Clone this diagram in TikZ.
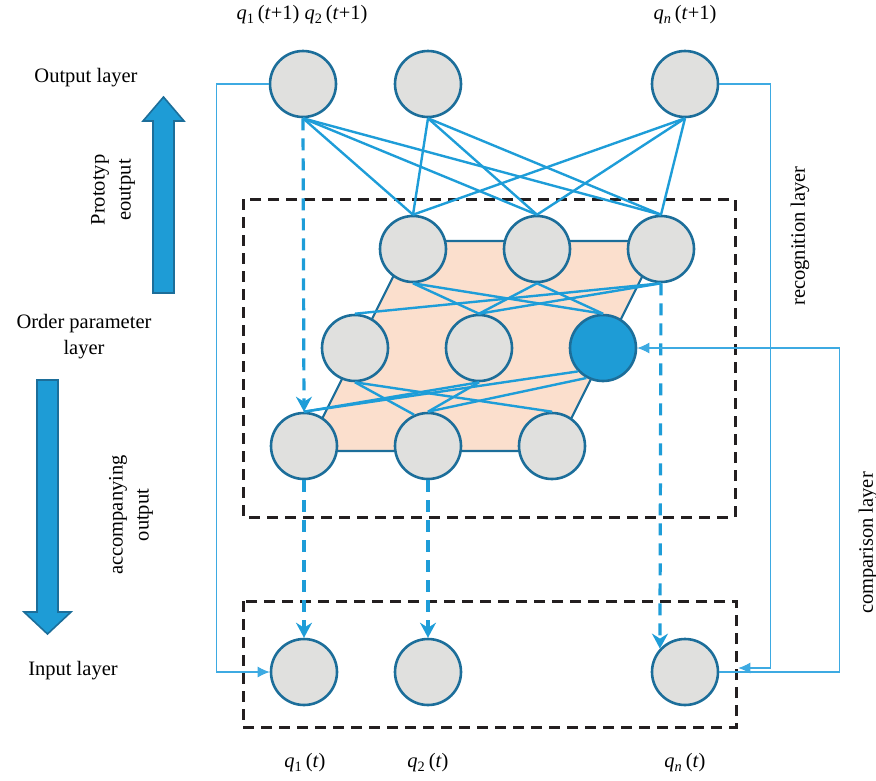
\documentclass[tikz,border=0pt]{standalone}
\usepackage{fontspec}
\setmainfont{Liberation Serif}
\usetikzlibrary{arrows.meta,calc}
\definecolor{cfill}{HTML}{E0E0DE}
\definecolor{cdark}{HTML}{1C6E9A}
\definecolor{cblue}{HTML}{1E9CD6}
\definecolor{clink}{HTML}{1E9DD8}
\definecolor{cthin}{HTML}{3DAAE2}
\definecolor{cpeach}{HTML}{FBDFCD}
\definecolor{cblack}{HTML}{231F20}
\newcommand{\qlab}[2]{\textit{q}\textsubscript{#1}\,(#2)}
\begin{document}
\begin{tikzpicture}[x=1pt,y=-1pt,
  font=\fontsize{20.5}{26}\selectfont,
  neuron/.style={circle, draw=cdark, fill=cfill, line width=2.6pt, minimum size=66pt, inner sep=0pt},
  hot/.style={neuron, fill=cblue},
  link/.style={draw=clink, line width=2.4pt},
  flow/.style={draw=clink, line width=3.2pt, dash pattern=on 12pt off 8pt, -{Stealth[length=15pt,width=16pt,inset=5pt]}},
  frame/.style={draw=cblack, line width=3pt, dash pattern=on 11pt off 7pt},
  feed/.style={draw=cthin, line width=1.1pt, -{Latex[length=12pt,width=11pt]}},
  blockarrow/.style={fill=cblue, draw=cdark, line width=1.6pt},
  lbl/.style={align=center, inner sep=0pt}]
\useasboundingbox (0,0) rectangle (876,780);

% block arrows
\draw[blockarrow] (153,293) -- (153,121) -- (143,121) -- (163.5,97) -- (184,121) -- (174,121) -- (174,293) -- cycle;
\draw[blockarrow] (37,380) -- (58,380) -- (58,612) -- (71,612) -- (47.5,634) -- (24,612) -- (37,612) -- cycle;

% dashed frames
\draw[frame] (243,199) rectangle (735,517);
\draw[frame] (243,601) rectangle (736,727);

% parallelogram
\draw[fill=cpeach, draw=cdark, line width=2.2pt] (411,241) -- (660,241) -- (555,451) -- (306,451) -- cycle;

% neurons
\node[neuron] (t1) at (303,84) {};
\node[neuron] (t2) at (428,84) {};
\node[neuron] (tn) at (685,84) {};
\node[neuron] (r11) at (413,249) {};
\node[neuron] (r12) at (537,249) {};
\node[neuron] (r13) at (661,249) {};
\node[neuron] (r21) at (355,348) {};
\node[neuron] (r22) at (479,348) {};
\node[hot] (r23) at (603,348) {};
\node[neuron] (r31) at (304,446) {};
\node[neuron] (r32) at (428,446) {};
\node[neuron] (r33) at (552,446) {};
\node[neuron] (b1) at (304,672) {};
\node[neuron] (b2) at (428,672) {};
\node[neuron] (bn) at (685,672) {};

% links top -> row1
\foreach \s in {t1,t2,tn}
  \foreach \d in {r11,r12,r13}
    \draw[link] (\s.south) -- (\d.north);
% row1 -> row2
\draw[link] (r11.south) -- (r22.north);
\draw[link] (r11.south) -- (r23.north);
\draw[link] (r12.south) -- (r22.north);
\draw[link] (r12.south) -- (r23.north);
\draw[link] (r13.south) -- (r21.north);
\draw[link] (r13.south) -- (r22.north);
% row2 -> row3
\draw[link] (r21.south) -- (r32.114);
\draw[link] (r21.south) -- (r33.north);
\draw[link] (r22.south) -- (r32.north);
\draw[link] (r22.south) -- (r31.north);
\draw[link] (r23.223) -- (r31.north);
\draw[link] (r23.241) -- (r32.north);

% dashed flows
\draw[flow] (t1.south) -- (r31.north);
\draw[flow] (r31.south) -- (b1.north);
\draw[flow] (r32.south) -- (b2.north);
\draw[flow] (r13.south) -- (bn.137);

% feedback lines
\coordinate (recv) at ($(bn.east)+(19,-4)$);
\draw[feed] (t1.west) -- ++(-52,0) |- (b1.west);
\draw[feed] (tn.east) -- ++(51,0) |- (recv);
\draw[feed] (bn.east) -- ++(120,0) |- (r23.east);

% labels
\node[lbl] (outl) at (86,78) {Output layer};
\node[lbl, rotate=90] (proto) at (113,190) {Prototyp\\eoutput};
\node[lbl] (ordl) at (84,337) {Order parameter\\layer};
\node[lbl, rotate=90] (acc) at (131,515) {accompanying\\output};
\node[lbl] (inl) at (73,671) {Input layer};
\node[lbl, rotate=90] (recl) at (800,236) {recognition layer};
\node[lbl, rotate=90] (coml) at (868,543) {comparison layer};
\node[lbl] (qt12) at (302,15) {\qlab{1}{\textit{t}+1} \qlab{2}{\textit{t}+1}};
\node[lbl] (qtn) at (685,15) {\qlab{\textit{n}}{\textit{t}+1}};
\node[lbl] (q1) at (305,763) {\qlab{1}{\textit{t}}};
\node[lbl] (q2) at (428,763) {\qlab{2}{\textit{t}}};
\node[lbl] (qn) at (685,763) {\qlab{\textit{n}}{\textit{t}}};
\end{tikzpicture}
\end{document}
